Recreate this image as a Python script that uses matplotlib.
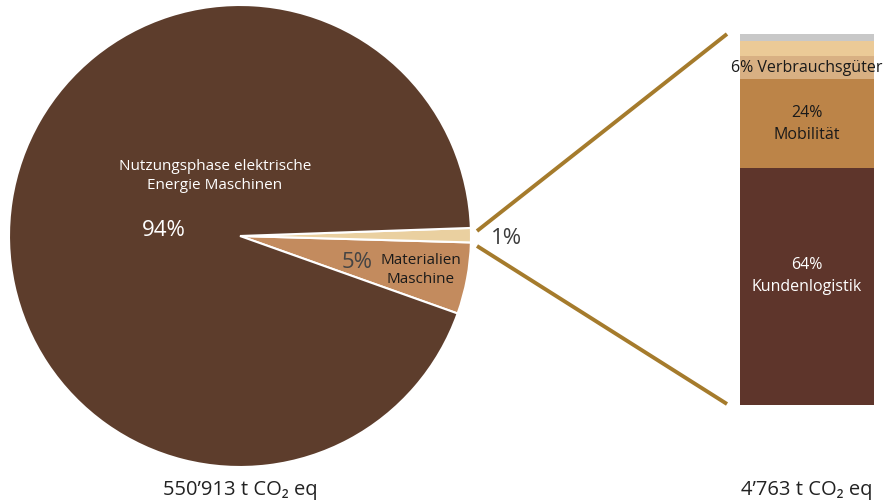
import matplotlib
matplotlib.use("Agg")
import matplotlib.pyplot as plt

plt.rcParams['font.family'] = ['Open Sans', 'DejaVu Sans']

# Pie: overall footprint shares
pie_labels = ["Materialien\nMaschine", "Other", "Nutzungsphase elektrische\nEnergie Maschinen"]
pie_values = [5, 1, 94]
pie_colors = ["#c38b5e", "#ead0a0", "#5d3d2c"]

# Stacked bar: breakdown of the 1 % slice (bottom to top)
bar_labels = ["Kundenlogistik", "Mobilität", "Verbrauchsgüter", "", ""]
bar_values = [64, 24, 6, 4, 2]
bar_colors = ["#5e352b", "#bc8448", "#d8b083", "#ebca97", "#c8c8c8"]

total_main = "550’913 t CO₂ eq"
total_sub = "4’763 t CO₂ eq"

W, H = 886, 502
fig = plt.figure(figsize=(W / 100, H / 100), dpi=100)
ax = fig.add_axes([0, 0, 1, 1])

cx, cy, r = 240, H - 237, 231
ax.pie(pie_values, colors=pie_colors, startangle=-19.6, counterclock=True,
       center=(cx, cy), radius=r,
       wedgeprops=dict(edgecolor="white", linewidth=1.5))
ax.set_xlim(0, W)
ax.set_ylim(0, H)
ax.set_aspect("equal")
ax.axis("off")

# Connector lines from the small slice to the bar
gold = "#a57b2c"
ax.plot([477, 727], [H - 232, H - 35], color=gold, lw=2.8, solid_capstyle="butt")
ax.plot([477, 727], [H - 247, H - 405], color=gold, lw=2.8, solid_capstyle="butt")

# Pie annotations
ax.text(215, H - 176, pie_labels[2], color="white", fontsize=11,
        ha="center", va="center", linespacing=1.45)
ax.text(164, H - 230, f"{pie_values[2]}%", color="white", fontsize=16,
        ha="center", va="center")
ax.text(357, H - 262, f"{pie_values[0]}%", color="#444444", fontsize=16,
        ha="center", va="center")
ax.text(421, H - 270, pie_labels[0], color="#1a1a1a", fontsize=11,
        ha="center", va="center", linespacing=1.35)
ax.text(507, H - 238, f"{pie_values[1]}%", color="#3c3c3c", fontsize=16,
        ha="center", va="center")

ax.text(cx, H - 490, total_main, color="#222222", fontsize=14.5, ha="center", va="center")
ax.text(807, H - 490, total_sub, color="#222222", fontsize=14.5, ha="center", va="center")

# Stacked bar
bx = fig.add_axes([740 / W, 96 / H, 134 / W, 371 / H])
bottom = 0
for v, c in zip(bar_values, bar_colors):
    bx.bar(0, v, bottom=bottom, width=1.0, color=c, linewidth=0)
    bottom += v
bx.set_xlim(-0.5, 0.5)
bx.set_ylim(0, sum(bar_values))
bx.axis("off")

bx.text(0, 35, f"{bar_values[0]}%\n{bar_labels[0]}", color="white", fontsize=11.5,
        ha="center", va="center", linespacing=1.55)
bx.text(0, 76, f"{bar_values[1]}%\n{bar_labels[1]}", color="#1a1a1a", fontsize=11.5,
        ha="center", va="center", linespacing=1.55)
bx.text(0, 91, f"{bar_values[2]}% {bar_labels[2]}", color="#1a1a1a", fontsize=11.5,
        ha="center", va="center", clip_on=False)

fig.savefig("out.png", dpi=100)
